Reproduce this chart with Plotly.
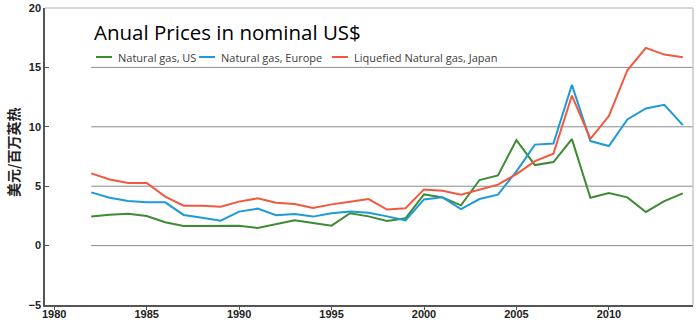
import plotly.graph_objects as go

years = list(range(1982, 2015))
us = [2.44, 2.60, 2.69, 2.49, 1.96, 1.65, 1.65, 1.68, 1.68, 1.48, 1.79, 2.13, 1.90, 1.68,
      2.72, 2.46, 2.07, 2.30, 4.31, 4.06, 3.39, 5.52, 5.91, 8.88, 6.78, 7.03, 8.96,
      4.03, 4.43, 4.06, 2.83, 3.75, 4.40]
europe = [4.48, 4.03, 3.75, 3.64, 3.64, 2.58, 2.35, 2.10, 2.86, 3.11, 2.55, 2.66, 2.44, 2.72,
          2.86, 2.77, 2.46, 2.13, 3.89, 4.06, 3.08, 3.92, 4.29, 6.25, 8.50, 8.60, 13.53,
          8.80, 8.38, 10.62, 11.54, 11.85, 10.14]
japan = [6.08, 5.57, 5.27, 5.27, 4.12, 3.36, 3.36, 3.28, 3.70, 3.98, 3.61, 3.50, 3.17, 3.47,
         3.70, 3.92, 3.03, 3.14, 4.73, 4.62, 4.29, 4.73, 5.13, 6.02, 7.11, 7.73, 12.63,
         8.99, 10.90, 14.76, 16.64, 16.08, 15.85]

series_names = ["Natural gas, US", "Natural gas, Europe", "Liquefied Natural gas, Japan"]
series_values = [us, europe, japan]
series_colors = ["#3f8a35", "#1e9ad6", "#f2583e"]

x_ticks = [1980, 1985, 1990, 1995, 2000, 2005, 2010]
y_ticks = [-5, 0, 5, 10, 15, 20]
grid_vals = [0, 5, 10, 15]

W, H = 700, 323
ML, MR, MT, MB = 45, 7, 8, 18
PW, PH = W - ML - MR, H - MT - MB


def px_x(p):
    return (p - ML) / PW


def px_y(p):
    return (H - MB - p) / PH


fig = go.Figure()
for name, vals, color in zip(series_names, series_values, series_colors):
    fig.add_trace(go.Scatter(x=years, y=vals, mode="lines", name=name,
                             line=dict(color=color, width=2), showlegend=False))

shapes = []
for g in grid_vals:
    shapes.append(dict(type="line", xref="x", yref="y", x0=years[0], x1=2014.55,
                       y0=g, y1=g, line=dict(color="#8c8c8c", width=1), layer="below"))
shapes.append(dict(type="line", xref="paper", yref="paper", x0=0, x1=1, y0=1, y1=1,
                   line=dict(color="#c8c8c8", width=1.5)))
shapes.append(dict(type="line", xref="paper", yref="paper", x0=1, x1=1, y0=0, y1=1,
                   line=dict(color="#c8c8c8", width=1.5)))

annotations = [dict(text="美元/百万英热", xref="paper", yref="paper", x=px_x(13),
                    y=px_y(153), xanchor="center", yanchor="middle", textangle=-90,
                    showarrow=False,
                    font=dict(family="Noto Sans CJK SC", size=14, color="#222222",
                              weight="bold"))]

legend_y = px_y(57)
key_starts = [96, 199, 332]
key_len = 16
for name, color, k in zip(series_names, series_colors, key_starts):
    shapes.append(dict(type="line", xref="paper", yref="paper", x0=px_x(k), x1=px_x(k + key_len),
                       y0=legend_y, y1=legend_y, line=dict(color=color, width=2)))
    annotations.append(dict(text=name, xref="paper", yref="paper", x=px_x(k + key_len + 4),
                            y=legend_y, xanchor="left", yanchor="middle", showarrow=False,
                            font=dict(family="Open Sans", size=11, color="#404040")))

tickfont = dict(family="Liberation Sans", size=11, color="#222222", weight="bold")

fig.update_layout(
    width=W, height=H,
    margin=dict(l=ML, r=MR, t=MT, b=MB, autoexpand=False),
    paper_bgcolor="white", plot_bgcolor="white",
    shapes=shapes,
    annotations=annotations,
    showlegend=False,
    title=dict(text="Anual Prices in nominal US$", x=94 / W, xanchor="left",
               y=1 - 33 / H, yanchor="middle",
               font=dict(family="Open Sans", size=20.5, color="#000000")),
    xaxis=dict(range=[1979.5, 2014.55], tickvals=x_ticks, showgrid=False, zeroline=False,
               automargin=False,
               showline=True, linecolor="#555555", linewidth=1.5,
               ticks="outside", ticklen=3, tickcolor="#555555", tickfont=tickfont,
               ticklabelstandoff=-5),
    yaxis=dict(range=[-5, 20], tickvals=y_ticks, showgrid=False, zeroline=False,
               automargin=False,
               showline=True, linecolor="#555555", linewidth=1.5,
               ticks="inside", ticklen=4, tickcolor="#555555", tickfont=tickfont),
)

fig.write_html("out.html")
